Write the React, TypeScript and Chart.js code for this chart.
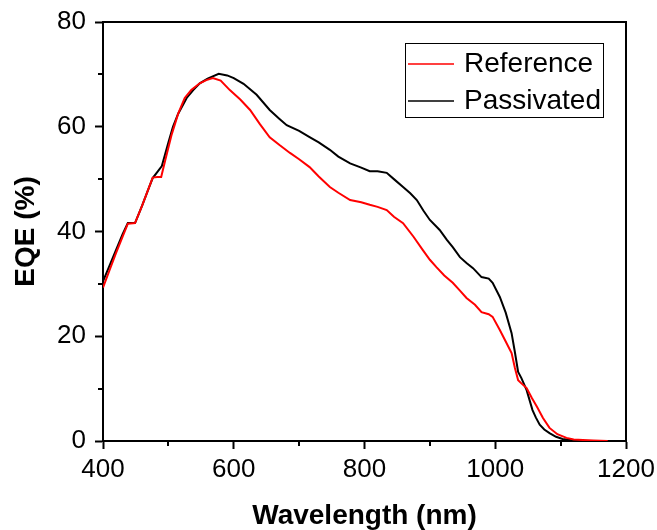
import React, { useEffect, useRef } from "react";
import { Chart, registerables } from "chart.js";

Chart.register(...registerables);

const seriesNames = ["Reference", "Passivated"];
const seriesColors = ["#ff0000", "#000000"];

const refWavelength = [400, 410, 420, 430, 438, 449, 460, 470, 476, 483, 489, 495, 505, 515, 525, 535, 548, 558, 568, 580, 594, 610, 625, 640, 655, 670, 686, 700, 716, 730, 747, 760, 778, 795, 808, 820, 834, 845, 859, 875, 889, 900, 910, 922, 935, 946, 956, 969, 979, 990, 996, 1007, 1016, 1025, 1030, 1035, 1040, 1048, 1056, 1064, 1073, 1083, 1095, 1109, 1120, 1134, 1150, 1172];
const refEQE = [29.3, 32.6, 35.9, 39.0, 41.5, 41.6, 45.0, 48.3, 50.3, 50.4, 50.4, 53.5, 58.5, 62.5, 65.5, 67.0, 68.3, 68.9, 69.3, 68.8, 67.0, 65.2, 63.2, 60.5, 58.0, 56.5, 55.0, 53.8, 52.3, 50.5, 48.5, 47.4, 46.0, 45.6, 45.1, 44.7, 44.1, 42.8, 41.6, 39.0, 36.5, 34.6, 33.2, 31.6, 30.2, 28.7, 27.3, 26.0, 24.6, 24.2, 23.7, 21.2, 19.0, 16.8, 14.0, 11.6, 11.0, 10.1, 8.2, 6.5, 4.4, 2.5, 1.3, 0.6, 0.3, 0.2, 0.1, 0.0];

const pasWavelength = [400, 410, 420, 430, 438, 449, 460, 470, 476, 490, 500, 507, 515, 528, 538, 548, 560, 577, 590, 600, 615, 635, 655, 670, 681, 700, 716, 730, 747, 760, 778, 795, 808, 820, 834, 845, 859, 870, 880, 890, 900, 915, 926, 935, 946, 956, 966, 979, 990, 996, 1007, 1016, 1025, 1030, 1035, 1040, 1048, 1057, 1062, 1068, 1075, 1083, 1093, 1103, 1115, 1134, 1145];
const pasEQE = [30.5, 33.5, 36.5, 39.5, 41.6, 41.6, 45.0, 48.3, 50.2, 52.5, 57.0, 60.0, 62.5, 65.5, 67.0, 68.3, 69.2, 70.1, 69.8, 69.3, 68.2, 66.1, 63.2, 61.5, 60.3, 59.2, 58.0, 57.0, 55.6, 54.3, 53.0, 52.2, 51.5, 51.5, 51.2, 50.0, 48.5, 47.3, 46.0, 44.0, 42.2, 40.3, 38.4, 37.0, 35.1, 34.0, 33.0, 31.3, 31.0, 30.2, 27.5, 24.5, 20.6, 17.0, 13.2, 12.0, 9.7, 5.9, 4.5, 3.1, 2.2, 1.5, 0.8, 0.4, 0.2, 0.0, 0.0];

const xMin = 400, xMax = 1200, xMajor = 200, xMinor = 100;
const yMin = 0, yMax = 80, yMajor = 20, yMinor = 10;
const xTitle = "Wavelength (nm)";
const yTitle = "EQE (%)";

const FONT = "Arial, 'Liberation Sans', sans-serif";

const framePlugin = {
  id: "frameAndLegend",
  afterDraw(chart: any) {
    const { ctx, chartArea } = chart;
    const { left, right, top, bottom } = chartArea;
    const xs = chart.scales.x;
    const ys = chart.scales.y;
    ctx.save();
    ctx.strokeStyle = "#000";
    ctx.lineWidth = 2;
    ctx.beginPath();
    ctx.moveTo(left, top);
    ctx.lineTo(right, top);
    ctx.lineTo(right, bottom);
    ctx.stroke();
    // minor ticks
    ctx.lineWidth = 2;
    ctx.beginPath();
    for (let v = xMin + xMinor; v < xMax; v += xMajor) {
      const px = Math.round(xs.getPixelForValue(v));
      ctx.moveTo(px, bottom);
      ctx.lineTo(px, bottom + 5);
    }
    for (let v = yMin + yMinor; v < yMax; v += yMajor) {
      const py = Math.round(ys.getPixelForValue(v));
      ctx.moveTo(left, py);
      ctx.lineTo(left - 5, py);
    }
    ctx.stroke();
    // legend
    const bx = left + 302, by = top + 21, bw = 198, bh = 74;
    ctx.lineWidth = 1;
    ctx.strokeStyle = "#000";
    ctx.strokeRect(bx + 0.5, by + 0.5, bw, bh);
    ctx.font = "28px " + FONT;
    ctx.textBaseline = "middle";
    ctx.textAlign = "left";
    chart.data.datasets.forEach((ds: any, i: number) => {
      const ly = by + 21 + i * 37;
      ctx.strokeStyle = ds.borderColor;
      ctx.lineWidth = 1.5;
      ctx.beginPath();
      ctx.moveTo(bx + 3, ly);
      ctx.lineTo(bx + 49, ly);
      ctx.stroke();
      ctx.fillStyle = "#000";
      ctx.fillText(ds.label, bx + 59, ly);
    });
    ctx.restore();
  },
};

export default function App() {
  const ref = useRef<HTMLCanvasElement>(null);
  useEffect(() => {
    const toPts = (xs: number[], ys: number[]) => xs.map((x, i) => ({ x, y: ys[i] }));
    const chart = new Chart(ref.current!, {
      type: "line",
      data: {
        datasets: [
          {
            label: seriesNames[0],
            data: toPts(refWavelength, refEQE),
            borderColor: seriesColors[0],
            borderWidth: 2,
            pointRadius: 0,
            tension: 0,
            fill: false,
          },
          {
            label: seriesNames[1],
            data: toPts(pasWavelength, pasEQE),
            borderColor: seriesColors[1],
            borderWidth: 2,
            pointRadius: 0,
            tension: 0,
            fill: false,
          },
        ],
      },
      options: {
        animation: false,
        responsive: false,
        devicePixelRatio: 1,
        layout: { padding: { left: 0, right: 31, top: 22, bottom: 0 } },
        plugins: { legend: { display: false }, tooltip: { enabled: false } },
        scales: {
          x: {
            type: "linear",
            min: xMin,
            max: xMax,
            afterFit: (s: any) => { s.height = 89; s.paddingLeft = 0; s.paddingRight = 0; },
            afterBuildTicks: (s: any) => {
              const t = [];
              for (let v = xMin; v <= xMax; v += xMajor) t.push({ value: v });
              s.ticks = t;
            },
            grid: { drawOnChartArea: false, drawTicks: true, tickLength: 8, tickWidth: 2, tickColor: "#000" },
            border: { display: true, color: "#000", width: 2 },
            ticks: { color: "#000", font: { family: FONT, size: 26 }, padding: 5, maxRotation: 0, callback: (v: any) => String(v) },
            title: { display: true, text: xTitle, color: "#000", font: { family: FONT, size: 28, weight: "bold", lineHeight: 1.0 }, padding: { top: 4, bottom: 0 } },
          },
          y: {
            type: "linear",
            min: yMin,
            max: yMax,
            afterFit: (s: any) => { s.width = 103; s.paddingTop = 0; s.paddingBottom = 0; },
            afterBuildTicks: (s: any) => {
              const t = [];
              for (let v = yMin; v <= yMax; v += yMajor) t.push({ value: v });
              s.ticks = t;
            },
            grid: { drawOnChartArea: false, drawTicks: true, tickLength: 8, tickWidth: 2, tickColor: "#000" },
            border: { display: true, color: "#000", width: 2 },
            ticks: { color: "#000", font: { family: FONT, size: 26 }, padding: 9, callback: (v: any) => String(v) },
            title: { display: true, text: yTitle, color: "#000", font: { family: FONT, size: 28, weight: "bold" }, padding: { top: 9, bottom: 0 } },
          },
        },
      },
      plugins: [framePlugin],
    } as any);
    return () => chart.destroy();
  }, []);
  return (
    <div style={{ position: "absolute", left: 0, top: 0, width: 657, height: 530, background: "#fff" }}>
      <canvas ref={ref} width={657} height={530} style={{ display: "block" }} />
    </div>
  );
}
